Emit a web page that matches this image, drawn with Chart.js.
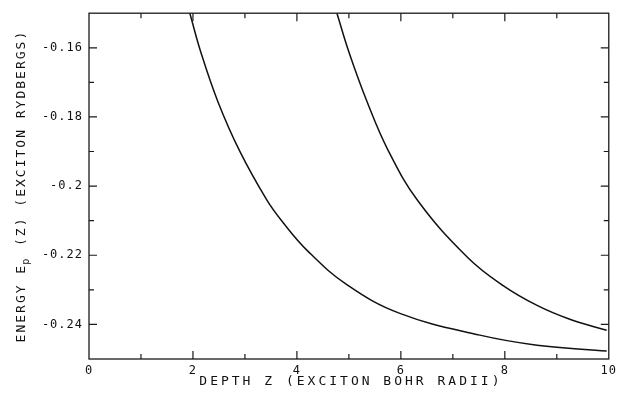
<!DOCTYPE html>
<html lang="en">

<head>
    <meta charset="UTF-8" />
    <title>Energy vs depth</title>
    <script src="https://cdn.jsdelivr.net/npm/chart.js@4.4.1/dist/chart.umd.min.js"></script>
    <style>
        body { margin: 0; background: #fff; }
        #wrap { width: 621px; height: 398px; }
    </style>
</head>

<body>
    <div id="wrap"><canvas id="energyChart" width="621" height="398"></canvas></div>

    <script>
        // depth Z (exciton Bohr radii) and energy (exciton Rydbergs)
        const lowerZ = [1.94, 2.15, 2.48, 2.90, 3.42, 3.71, 4.21, 4.96, 5.98, 7.52, 8.62, 9.96];
        const lowerE = [-0.1500, -0.1612, -0.1756, -0.1899, -0.2040, -0.2101, -0.2188, -0.2285, -0.2368, -0.2431, -0.2460, -0.2477];

        const upperZ = [4.77, 5.00, 5.35, 5.75, 6.33, 7.29, 7.96, 8.62, 9.25, 9.96];
        const upperE = [-0.1500, -0.1612, -0.1756, -0.1895, -0.2043, -0.2207, -0.2287, -0.2345, -0.2385, -0.2417];

        const xTitle = "DEPTH Z (EXCITON BOHR RADII)";
        const yTitleA = "ENERGY E";
        const yTitleSub = "p";
        const yTitleB = " (Z) (EXCITON RYDBERGS)";

        const monoFont = "'DejaVu Sans Mono', 'Liberation Mono', monospace";

        function toPoints(xs, ys) {
            return xs.map((x, i) => ({ x: x, y: ys[i] }));
        }

        // frame, inward ticks on all four sides, and the spaced-out axis titles
        const framePlugin = {
            id: "frame",
            beforeDraw(chart) {
                // plotter lettering is a bit wider than the font
                chart.ctx.letterSpacing = "1px";
            },
            afterDraw(chart) {
                const ctx = chart.ctx;
                const a = chart.chartArea;
                const xs = chart.scales.x;
                const ys = chart.scales.y;
                ctx.save();
                ctx.strokeStyle = "#1a1a1a";
                ctx.lineWidth = 1.3;
                ctx.strokeRect(a.left, a.top, a.right - a.left, a.bottom - a.top);

                ctx.lineWidth = 1.2;
                ctx.beginPath();
                xs.ticks.forEach(t => {
                    if (t.value <= xs.min || t.value >= xs.max) return;
                    const px = xs.getPixelForValue(t.value);
                    const len = Math.round(t.value) % 2 === 0 ? 8 : 5;
                    ctx.moveTo(px, a.bottom); ctx.lineTo(px, a.bottom - len);
                    ctx.moveTo(px, a.top); ctx.lineTo(px, a.top + len);
                });
                ys.ticks.forEach(t => {
                    const n = Math.round(t.value * 100);
                    if (n <= Math.round(ys.min * 100) || n >= Math.round(ys.max * 100)) return;
                    const py = ys.getPixelForValue(t.value);
                    const len = n % 2 === 0 ? 8 : 5;
                    ctx.moveTo(a.left, py); ctx.lineTo(a.left + len, py);
                    ctx.moveTo(a.right, py); ctx.lineTo(a.right - len, py);
                });
                ctx.stroke();

                // x axis title
                ctx.fillStyle = "#111";
                ctx.font = "13px " + monoFont;
                ctx.letterSpacing = "3px";
                ctx.textAlign = "center";
                ctx.textBaseline = "alphabetic";
                ctx.fillText(xTitle, (a.left + a.right) / 2 + 2, 385);

                // y axis title, rotated, with subscript p
                ctx.letterSpacing = "2px";
                ctx.textAlign = "left";
                ctx.font = "13px " + monoFont;
                const wA = ctx.measureText(yTitleA).width;
                const wB = ctx.measureText(yTitleB).width;
                ctx.font = "10px " + monoFont;
                const wS = ctx.measureText(yTitleSub).width;
                const total = wA + wS + wB;
                ctx.translate(25, (a.top + a.bottom) / 2);
                ctx.rotate(-Math.PI / 2);
                let cx = -total / 2;
                ctx.font = "13px " + monoFont;
                ctx.fillText(yTitleA, cx, 0);
                cx += wA;
                ctx.font = "10px " + monoFont;
                ctx.fillText(yTitleSub, cx - 1, 4);
                cx += wS;
                ctx.font = "13px " + monoFont;
                ctx.fillText(yTitleB, cx, 0);
                ctx.restore();
                ctx.letterSpacing = "0px";
            }
        };

        const lineStyle = {
            showLine: true,
            borderColor: "#111",
            borderWidth: 1.5,
            pointRadius: 0,
            fill: false,
            tension: 0.4
        };

        new Chart(document.getElementById("energyChart"), {
            type: "scatter",
            data: {
                datasets: [
                    Object.assign({ label: "lower", data: toPoints(lowerZ, lowerE) }, lineStyle),
                    Object.assign({ label: "upper", data: toPoints(upperZ, upperE) }, lineStyle)
                ]
            },
            options: {
                responsive: false,
                animation: false,
                devicePixelRatio: 1,
                layout: { padding: { top: 11, right: 12, left: 0, bottom: 0 } },
                plugins: {
                    legend: { display: false },
                    tooltip: { enabled: false }
                },
                scales: {
                    x: {
                        type: "linear",
                        min: 0,
                        max: 10,
                        grid: { display: false, drawTicks: false },
                        border: { display: false },
                        ticks: {
                            stepSize: 1,
                            autoSkip: false,
                            maxRotation: 0,
                            padding: 5,
                            color: "#111",
                            font: { family: monoFont, size: 12 },
                            callback: v => (Math.round(v) % 2 === 0 ? String(Math.round(v)) : "")
                        },
                        afterFit: s => { s.height = 39; }
                    },
                    y: {
                        type: "linear",
                        min: -0.25,
                        max: -0.15,
                        grid: { display: false, drawTicks: false },
                        border: { display: false },
                        ticks: {
                            stepSize: 0.01,
                            autoSkip: false,
                            padding: 6,
                            color: "#111",
                            font: { family: monoFont, size: 12 },
                            callback: v => {
                                const n = Math.round(v * 100);
                                return n % 2 === 0 ? String(n / 100) : "";
                            }
                        },
                        afterFit: s => { s.width = 89; }
                    }
                }
            },
            plugins: [framePlugin]
        });
    </script>
</body>

</html>
